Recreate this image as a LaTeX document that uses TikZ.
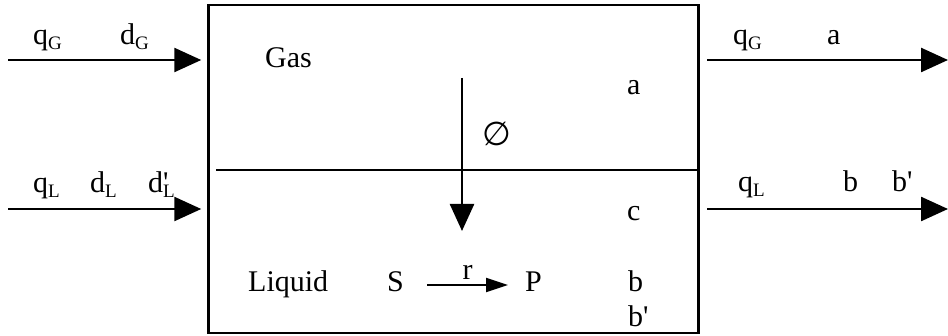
\documentclass[tikz,border=0pt]{standalone}
\usepackage{fontspec}
\setmainfont{Liberation Serif}
\newfontfamily\symbfont{DejaVu Sans}
\usepackage{tikz}
\usetikzlibrary{positioning}
\usetikzlibrary{arrows.meta}

\tikzset{
    flow/.style={line width=2.5pt, -{Triangle[length=27pt,width=24pt]}},
    reaction/.style={line width=2pt, -{Triangle[length=22pt,width=14pt]}},
    lbl/.style={inner sep=0pt, anchor=base west, font=\fontsize{30}{36}\selectfont},
}
\newcommand{\lowidx}[1]{\raisebox{-5pt}{\fontsize{19}{22}\selectfont #1}}
\newcommand{\sbs}[2]{#1\lowidx{#2}}
\newcommand{\sbp}[2]{#1\rlap{\textquotesingle}\lowidx{#2}}

\begin{document}
\begin{tikzpicture}[x=1pt, y=-1pt]
    \useasboundingbox (0,0) rectangle (948,336);

    % vessel and gas/liquid interface
    \node[draw, line width=2.5pt, minimum width=490pt, minimum height=328pt, inner sep=0pt] (vessel) at (453.5,169) {};
    \coordinate (ifl) at (216,170);
    \coordinate (ifr) at (vessel.east |- ifl);
    \draw[line width=2.5pt] (ifl) -- (ifr);

    % feed and outlet streams
    \coordinate (gin) at (8,60);
    \coordinate (lin) at (8,209);
    \coordinate (gout) at (948,60);
    \coordinate (lout) at (948,209);
    \coordinate (gv) at (707,60);
    \coordinate (lv) at (707,209);
    \draw[flow] (gin) -- ([xshift=-6pt]vessel.west |- gin);
    \draw[flow] (lin) -- ([xshift=-6pt]vessel.west |- lin);
    \draw[flow] (gv) -- (gout);
    \draw[flow] (lv) -- (lout);

    % mass transfer
    \coordinate (mtop) at (462,78);
    \coordinate (mbot) at (462,231);
    \draw[flow] (mtop) -- (mbot);

    % stream labels
    \node[lbl] (qg) at (33,45) {\sbs{q}{G}};
    \node[lbl] (dg) at (120,45) {\sbs{d}{G}};
    \node[lbl] (ql) at (33,193) {\sbs{q}{L}};
    \node[lbl] (dl) at (90,193) {\sbs{d}{L}};
    \node[lbl] (dpl) at (148,193) {\sbp{d}{L}};
    \node[lbl] (qgo) at (733,45) {\sbs{q}{G}};
    \node[lbl] (ao) at (827,45) {a};
    \node[lbl] (qlo) at (738,192) {\sbs{q}{L}};
    \node[lbl] (bo) at (843,192) {b};
    \node[lbl] (bpo) at (892,192) {b\textquotesingle};

    % vessel contents
    \node[lbl] (gas) at (265,68) {Gas};
    \node[lbl] (agas) at (627,95) {a};
    \node[lbl] (phi) at (482,146) {\symbfont\fontsize{33}{38}\selectfont ∅};
    \node[lbl] (cliq) at (627,221) {c};
    \node[lbl] (liquid) at (248,292) {Liquid};
    \node[lbl] (S) at (387,292) {S};
    \node[lbl] (P) at (525,292) {P};
    \node[lbl] (bliq) at (628,292) {b};
    \node[lbl] (bpliq) at (628,327) {b\textquotesingle};
    \coordinate (rs) at (427,285);
    \coordinate (rp) at (508,285);
    \draw[reaction] (rs) -- (rp)
        node[midway, above=4pt, inner sep=0pt, font=\fontsize{30}{36}\selectfont] (r) {r};
\end{tikzpicture}
\end{document}
